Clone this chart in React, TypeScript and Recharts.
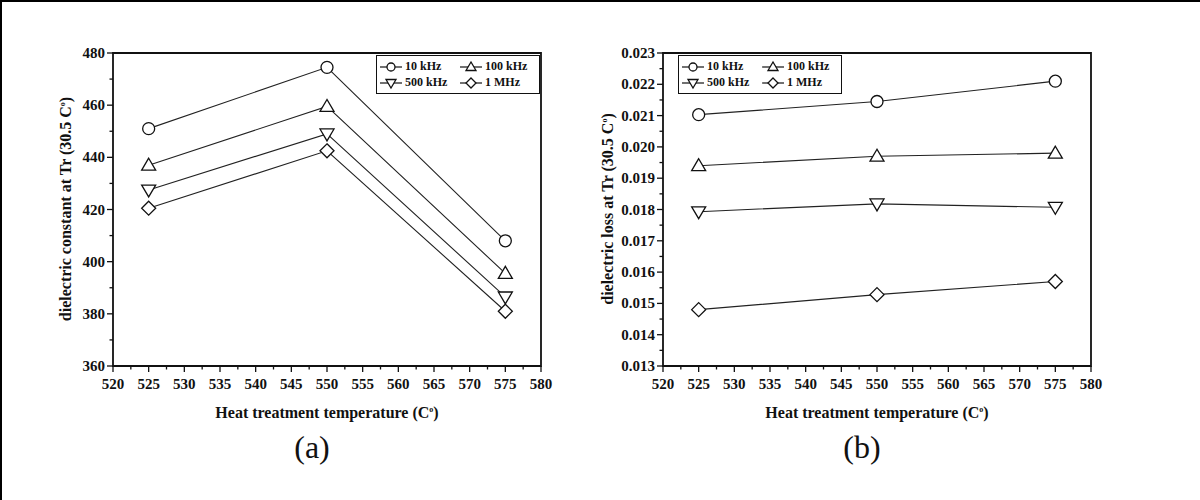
import { LineChart, Line, XAxis, YAxis, ReferenceArea } from "recharts";

// heat treatment temperatures (°C)
const temps = [525, 550, 575];
const seriesNames = ["10 kHz", "100 kHz", "500 kHz", "1 MHz"];

// (a) dielectric constant
const constant10k = [451, 474.5, 408];
const constant100k = [437, 459.5, 395.5];
const constant500k = [427.5, 449, 386.5];
const constant1M = [420.5, 442.5, 381];

// (b) dielectric loss
const loss10k = [0.02103, 0.02145, 0.0221];
const loss100k = [0.0194, 0.0197, 0.0198];
const loss500k = [0.01793, 0.01818, 0.01807];
const loss1M = [0.0148, 0.01528, 0.0157];

const xTicks = [520, 525, 530, 535, 540, 545, 550, 555, 560, 565, 570, 575, 580];
const constantTicks = [360, 380, 400, 420, 440, 460, 480];
const lossTicks = [0.013, 0.014, 0.015, 0.016, 0.017, 0.018, 0.019, 0.02, 0.021, 0.022, 0.023];

const FONT = "'Liberation Serif', 'Times New Roman', serif";
const TICK_SIZE = 5;
const TICK_MARGIN = 4;
const INK = "#111";
const shapes = ["circle", "up", "down", "diamond"];
const boldText = { fontFamily: FONT, fontWeight: 700 };

// majors plus a minor tick halfway between each pair
const withMinors = (ticks: number[]) => {
  const out: number[] = [];
  ticks.forEach((t, i) => {
    out.push(t);
    if (i < ticks.length - 1) out.push((t + ticks[i + 1]) / 2);
  });
  return out;
};

const isMajor = (v: number, majors: number[]) => majors.some((m) => Math.abs(m - v) < 1e-9);

function Marker({ cx, cy, shape, s = 7 }: { cx: number; cy: number; shape: string; s?: number }) {
  const common = { fill: "#fff", stroke: INK, strokeWidth: 1.3 };
  if (shape === "circle") return <circle cx={cx} cy={cy} r={s - 1} {...common} />;
  if (shape === "up")
    return <polygon points={`${cx},${cy - s} ${cx - s},${cy + s * 0.7} ${cx + s},${cy + s * 0.7}`} {...common} />;
  if (shape === "down")
    return <polygon points={`${cx - s},${cy - s * 0.7} ${cx + s},${cy - s * 0.7} ${cx},${cy + s}`} {...common} />;
  return <polygon points={`${cx},${cy - s} ${cx + s},${cy} ${cx},${cy + s} ${cx - s},${cy}`} {...common} />;
}

function XTick(props: any) {
  const { x, y, payload } = props;
  const major = isMajor(payload.value, xTicks);
  const axisY = y - TICK_SIZE - TICK_MARGIN;
  return (
    <g>
      <line x1={x} x2={x} y1={axisY} y2={axisY + (major ? 6 : 3.5)} stroke={INK} strokeWidth={1.3} />
      {major && (
        <text x={x} y={axisY + 23} textAnchor="middle" fontSize={15} fill={INK} style={boldText}>
          {payload.value}
        </text>
      )}
    </g>
  );
}

function makeYTick(majors: number[], fmt: (v: number) => string) {
  return (props: any) => {
    const { x, y, payload } = props;
    const major = isMajor(payload.value, majors);
    const axisX = x + TICK_SIZE + TICK_MARGIN;
    return (
      <g>
        <line x1={axisX - (major ? 6 : 3.5)} x2={axisX} y1={y} y2={y} stroke={INK} strokeWidth={1.3} />
        {major && (
          <text x={axisX - 8} y={y + 5} textAnchor="end" fontSize={15} fill={INK} style={boldText}>
            {fmt(payload.value)}
          </text>
        )}
      </g>
    );
  };
}

function LegendBox({ left, top }: { left: number; top: number }) {
  const item = (i: number) => (
    <div style={{ display: "flex", alignItems: "center", whiteSpace: "nowrap" }}>
      <svg width={24} height={14}>
        <line x1={1} x2={23} y1={7} y2={7} stroke={INK} strokeWidth={1.2} />
        <Marker cx={12} cy={7} shape={shapes[i]} s={5} />
      </svg>
      <span style={{ marginLeft: 2 }}>{seriesNames[i]}</span>
    </div>
  );
  return (
    <div
      style={{
        position: "absolute",
        left,
        top,
        width: 160,
        height: 37,
        border: `1.5px solid ${INK}`,
        background: "#fff",
        ...boldText,
        fontSize: 12,
        color: INK,
        display: "grid",
        gridTemplateColumns: "80px 80px",
        alignContent: "center",
        rowGap: 1,
        paddingLeft: 2,
      }}
    >
      {item(0)}
      {item(1)}
      {item(2)}
      {item(3)}
    </div>
  );
}

function Panel(props: {
  left: number;
  series: number[][];
  yDomain: [number, number];
  yTicks: number[];
  yFormat: (v: number) => string;
  yTitle: string;
  letter: string;
  marginLeft: number;
  marginRight: number;
  legendLeft: number;
  titleX: number;
}) {
  const { left, series, yDomain, yTicks, yFormat, yTitle, letter, marginLeft, marginRight, legendLeft, titleX } = props;
  const data = temps.map((t, i) => ({ t, s0: series[0][i], s1: series[1][i], s2: series[2][i], s3: series[3][i] }));
  const plotLeft = marginLeft + 60;
  const plotRight = 600 - marginRight;
  const center = (plotLeft + plotRight) / 2;
  return (
    <div style={{ position: "absolute", left, top: 0, width: 600, height: 500 }}>
      <LineChart width={600} height={500} data={data} margin={{ top: 51, right: marginRight, left: marginLeft, bottom: 106 }}>
        <XAxis
          dataKey="t"
          type="number"
          domain={[520, 580]}
          ticks={withMinors(xTicks)}
          interval={0}
          height={30}
          axisLine={false}
          tickLine={false}
          tickSize={TICK_SIZE}
          tickMargin={TICK_MARGIN}
          tick={<XTick />}
        />
        <YAxis
          type="number"
          domain={yDomain}
          ticks={withMinors(yTicks)}
          interval={0}
          width={60}
          axisLine={false}
          tickLine={false}
          tickSize={TICK_SIZE}
          tickMargin={TICK_MARGIN}
          tick={makeYTick(yTicks, yFormat)}
        />
        <ReferenceArea
          x1={520}
          x2={580}
          y1={yDomain[0]}
          y2={yDomain[1]}
          fill="none"
          fillOpacity={0}
          stroke={INK}
          strokeWidth={1.8}
        />
        {shapes.map((shape, i) => (
          <Line
            key={shape}
            dataKey={`s${i}`}
            stroke="#222"
            strokeWidth={1.1}
            isAnimationActive={false}
            dot={(p: any) => <Marker key={`${shape}-${p.index}`} cx={p.cx} cy={p.cy} shape={shape} />}
            activeDot={false}
          />
        ))}
      </LineChart>
      <LegendBox left={legendLeft} top={53} />
      <div
        style={{
          position: "absolute",
          left: titleX,
          top: 207,
          transform: "translate(-50%, -50%) rotate(-90deg)",
          whiteSpace: "nowrap",
          ...boldText,
          fontSize: 16,
          color: INK,
        }}
      >
        {yTitle} (30.5 C<sup style={{ fontSize: 8 }}>o</sup>)
      </div>
      <div
        style={{
          position: "absolute",
          left: center,
          top: 411,
          transform: "translate(-50%, -50%)",
          whiteSpace: "nowrap",
          ...boldText,
          fontSize: 16,
          color: INK,
        }}
      >
        Heat treatment temperature (C<sup style={{ fontSize: 8 }}>o</sup>)
      </div>
      <div
        style={{
          position: "absolute",
          left: center - 15,
          top: 445,
          transform: "translate(-50%, -50%)",
          fontFamily: FONT,
          fontSize: 32,
          color: INK,
        }}
      >
        ({letter})
      </div>
    </div>
  );
}

export default function App() {
  return (
    <div
      style={{
        position: "absolute",
        left: 0,
        top: 0,
        width: 1198,
        height: 498,
        background: "#fff",
        borderTop: "2px solid #000",
        borderLeft: "2px solid #000",
        overflow: "hidden",
      }}
    >
      <Panel
        left={-2}
        series={[constant10k, constant100k, constant500k, constant1M]}
        yDomain={[360, 480]}
        yTicks={constantTicks}
        yFormat={(v) => String(v)}
        yTitle="dielectric constant at Tr"
        letter="a"
        marginLeft={53}
        marginRight={59}
        legendLeft={376}
        titleX={66}
      />
      <Panel
        left={598}
        series={[loss10k, loss100k, loss500k, loss1M]}
        yDomain={[0.013, 0.023]}
        yTicks={lossTicks}
        yFormat={(v) => v.toFixed(3)}
        yTitle="dielectric loss at Tr"
        letter="b"
        marginLeft={3}
        marginRight={109}
        legendLeft={78}
        titleX={8}
      />
    </div>
  );
}
